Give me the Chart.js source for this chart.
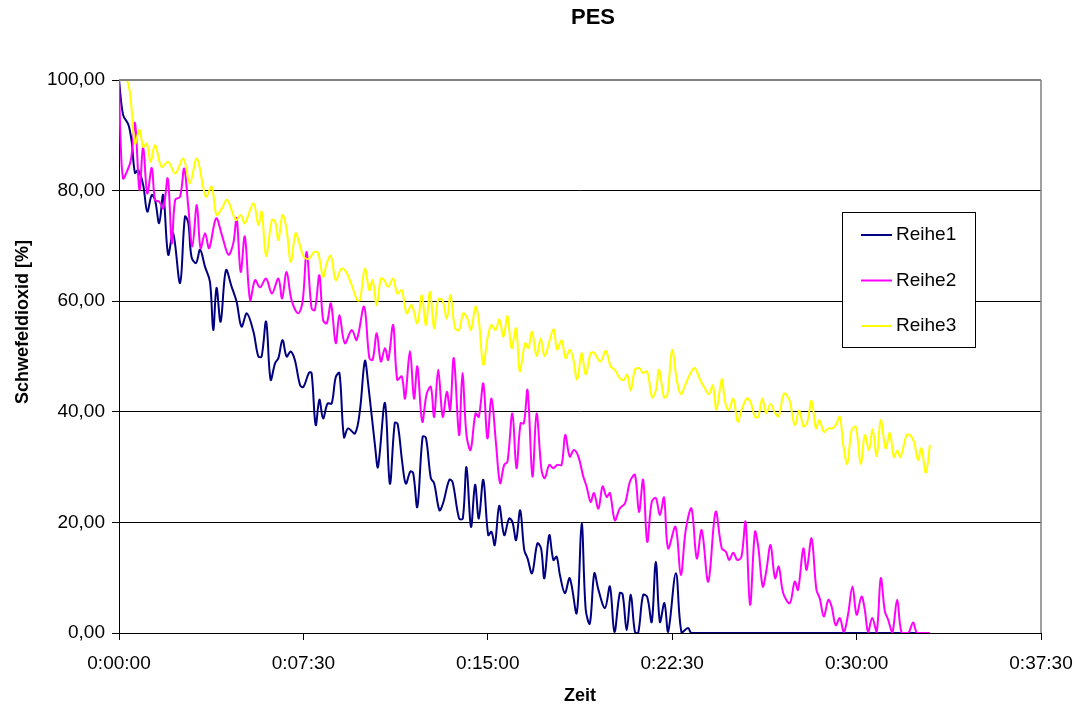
<!DOCTYPE html>
<html>
<head>
<meta charset="utf-8">
<script src="https://cdn.jsdelivr.net/npm/chart.js@4.4.1/dist/chart.umd.min.js"></script>
<style>
  html, body { margin: 0; padding: 0; background: #fff; }
</style>
</head>
<body>
<canvas id="chart" width="1079" height="710"></canvas>
<script>
// time in seconds, values in %
const seriesNames = ['Reihe1', 'Reihe2', 'Reihe3'];
const seriesColors = ['#000080', '#ff00ff', '#ffff00'];

const r1Time = [0,10,23,31,39,47,59,69,80,88,98,108,120,132,149,161,169,177,188,198,
  210,222,230,238,248,261,275,287,299,312,328,340,348,359,370,381,389,399,409,419,
  429,442,450,464,470,480,489,498,509,519,529,538,549,559,576,588,600,608,625,632,
  649,661,673,680,691,700,711,718,728,741,749,761,769,782,791,806,814,830,839,848,
  859,869,878,889,901,909,917,928,940,952,960,969,979,989,997,1008,1021,1030,1038,1050,
  1060,1068,1076,1088,1100,1117,1129,1139,1149,1160,1170,1186,1198,1209,1222,1229,1239,1249,1259,1267,
  1279,1289,1300,1310,1320,1331,1340,1359,1373,1389,1397,1500,1979];
const r1Vals = [100,93.7,91.9,88.8,83.2,83.7,81,76.2,79.2,78.3,74.1,79.2,68.4,72.3,63.3,75.3,74.2,68,66.9,69.3,
  66.2,63.5,54.8,62.4,56.3,65.6,62.6,59.9,55.4,57.8,54.5,50,50,56.3,45.8,48.8,49.7,53,50,50.9,
  49.4,44.8,44.5,47.1,47,37.6,42.2,38.8,41.5,41.5,46.3,47,35.4,37,36.1,40.3,49.2,45.1,33.7,30,
  41.6,27,38,37.8,31,27,29.2,28.9,22.8,35.5,35.3,28,27.1,22.2,23.5,27.7,27.3,20.7,20.7,30,
  19.2,26.8,20.7,27.7,17.7,18.3,15.9,23,17.7,20.7,20.1,16.8,22.2,15,13.5,10.8,16.2,15.3,9.9,17.7,
  13.2,13.8,10.5,7.2,9.9,3.6,19.8,4.2,1.7,10.8,7.8,4.5,8.4,0.2,7.2,7,0.5,6.9,0.2,0,
  6.9,6.5,2,12.9,2,5.4,0.2,10.8,0,0.9,0,0,0];

const r2Time = [0,4,10,19,29,39,50,59,69,80,88,98,108,119,129,137,149,159,169,179,
  190,199,210,220,237,251,267,279,287,297,307,320,332,344,359,373,389,398,409,421,
  437,448,458,470,478,489,498,507,517,529,538,551,568,580,598,611,619,629,639,649,
  657,669,679,690,698,710,720,728,740,751,761,769,779,790,800,808,817,830,838,848,
  858,870,878,889,899,909,920,930,940,948,960,970,980,988,997,1009,1019,1031,1039,1050,
  1060,1069,1080,1089,1100,1110,1121,1133,1141,1151,1159,1170,1180,1190,1198,1210,1222,1235,1247,1259,
  1269,1279,1289,1300,1310,1320,1330,1340,1358,1371,1383,1397,1410,1422,1438,1456,1471,1481,1489,
  1499,1509,1519,1529,1540,1552,1560,1571,1580,1590,1601,1610,1621,1637,1649,1657,1670,1678,1690,1702,
  1710,1720,1731,1739,1749,1759,1769,1779,1790,1800,1812,1820,1828,1838,1849,1859,1869,1877,1887,1899,
  1910,1926,1938,1948,1979];
const r2Vals = [100,88.8,82.2,83.4,85.5,92.2,80.1,87.9,79.5,84.1,78.3,78,76.8,82.2,70.5,78.3,78.9,84,77.1,69.9,
  77.4,69.6,72.3,69.6,75,72,68.4,70.5,75,65.3,71.7,60.2,63.8,62.5,64.1,61.4,64.1,60.5,65.3,60.2,
  57.8,59.9,68.9,58.7,58.4,64.7,56.6,56,59.6,52.4,57.5,52.4,54.8,53,59,49.7,49.4,54.2,49.1,51.5,
  49.4,55.7,45.8,46.4,42.4,51,42.4,48.2,38.2,43.3,44.5,39.1,47.6,39.1,43.6,40.3,49.7,35.8,47,35.8,
  33.1,39.7,39.1,45.1,35.2,42.4,34.3,27.1,30.4,31,39.7,29.8,37.9,37.9,43.9,28.3,39.7,29.5,28,30.4,
  29.8,30.4,30.4,35.8,31.9,33.1,31.9,28.3,26.5,23.7,25.3,22.5,26.5,24.6,25.3,20.4,22.5,23.5,27.4,28.6,
  21.9,27.7,16.5,23.7,24.4,21.3,24.5,15.3,19.2,10.5,18.6,22.5,13.5,18.6,9.3,21.9,15.3,14.7,13.2,
  14.5,13.2,13.8,20.1,5.1,18.3,15.6,8.4,11.4,15.9,9.9,12,7.2,5.4,9.3,7.8,15.3,11.4,17.1,7.8,
  6.3,3,6,4.8,1.4,2.7,0.2,3.3,8.4,3.3,6.6,4.2,0.2,2.7,0.2,9.9,3.9,2.4,0,6,
  0,0,1.9,0,0];

const r3Time = [0,19,29,39,50,59,68,77,88,104,120,137,157,173,190,212,226,238,251,264,
  285,297,307,328,340,348,359,373,381,389,399,409,419,431,440,451,464,476,486,498,
  507,517,529,543,554,568,581,588,600,611,619,629,639,647,657,669,679,690,702,714,
  728,739,749,759,769,779,789,800,809,820,830,840,850,859,870,878,889,900,909,919,
  928,938,948,958,969,978,991,999,1008,1019,1029,1039,1060,1069,1080,1090,1100,1108,1118,1129,
  1139,1151,1159,1175,1188,1200,1210,1222,1232,1240,1249,1259,1270,1279,1289,1301,1310,1318,1330,1338,
  1350,1361,1371,1383,1395,1405,1418,1430,1440,1449,1458,1471,1479,1488,1499,1510,1519,1532,1541,1552,
  1560,1570,1579,1590,1601,1610,1623,1636,1649,1660,1670,1679,1690,1701,1709,1720,1731,1741,1749,1759,
  1767,1777,1788,1798,1810,1820,1830,1839,1849,1859,1871,1881,1891,1899,1907,1922,1930,1940,1950,1958,
  1969,1979];
const r3Vals = [100,100,96.1,88.5,91,87.9,88.5,85.2,88.2,84.3,85.2,83.1,85.8,81.3,85.8,78.9,80.7,75.6,76.8,78.3,
  74.7,75.6,74.1,77.7,73.8,76.2,68.2,74.7,74.4,71.1,75.6,72.9,67.1,72.3,70.5,68,67.7,68.9,68.7,64.4,
  66.9,68.2,63.8,65.9,65.3,62.9,60.2,60.2,65.9,62,63.8,59.3,64.1,63.8,62.6,64.1,61.4,62,57.8,59.3,
  56,61.1,55.7,61.7,55.1,60.3,60.2,56.9,61.1,55.1,54.8,57.8,56.9,54.8,59,56.6,48.5,53.6,55.7,54.8,
  56.7,53.6,57.3,51.5,55.1,47.3,52.4,51.5,54.5,50.1,53.3,50.1,54.9,51.3,52.9,49.7,51.2,49.7,45.8,50.6,
  46.7,50.6,50.7,49.1,51,48.2,47.6,46.1,45.8,46.7,43.9,47.6,47.9,47,47.3,42.6,43.9,47.6,42.6,43,
  51.2,45.8,43.2,45.1,47,47.9,45.8,44.2,43.2,44.8,40.4,45.9,41.8,40.3,42.4,38.2,40.3,42.4,41.8,39.1,
  39.1,42.4,39.8,41.4,39.8,39.2,43.3,42.1,37.6,40.3,37.4,38,42,37,38.5,36.4,37,37,37.6,39.1,
  34.3,30.6,36.7,37.3,30.6,35.8,33.1,36.8,32,38.5,33.4,36.2,31.8,33,31.8,35.8,35.8,34.6,31.3,33.4,
  29,34];

const xTicks = [0, 450, 900, 1350, 1800, 2250];
const yTicks = [0, 20, 40, 60, 80, 100];

const fontFamily = '"Liberation Sans", Arial, sans-serif';

function toPoints(times, vals) {
    return times.map((t, i) => ({ x: t, y: vals[i] }));
}

function fmtTime(s) {
    const h = Math.floor(s / 3600);
    const m = Math.floor((s % 3600) / 60);
    const sec = Math.round(s % 60);
    return h + ':' + String(m).padStart(2, '0') + ':' + String(sec).padStart(2, '0');
}

// titles + boxed legend drawn over the plot, like the original
const decor = {
    id: 'decor',
    afterDraw(chart) {
        const c = chart.ctx;
        const a = chart.chartArea;
        c.save();
        // plot border (top / right) in grey
        c.strokeStyle = '#808080';
        c.lineWidth = 2;
        c.beginPath();
        c.moveTo(a.left, a.top);
        c.lineTo(a.right, a.top);
        c.stroke();
        c.lineWidth = 1.5;
        c.beginPath();
        c.moveTo(a.right, a.top);
        c.lineTo(a.right, a.bottom);
        c.stroke();

        c.fillStyle = '#000';
        c.textAlign = 'center';
        c.textBaseline = 'middle';
        c.font = 'bold 22px ' + fontFamily;
        c.fillText('PES', 593, 18);
        c.font = 'bold 18px ' + fontFamily;
        c.fillText('Zeit', (a.left + a.right) / 2, 696);
        c.translate(23, 322);
        c.rotate(-Math.PI / 2);
        c.fillText('Schwefeldioxid [%]', 0, 0);
        c.restore();

        // legend
        c.save();
        const bx = 842, by = 212, bw = 133, bh = 135;
        c.fillStyle = '#fff';
        c.fillRect(bx, by, bw, bh);
        c.strokeStyle = '#000';
        c.lineWidth = 1;
        c.strokeRect(bx + 0.5, by + 0.5, bw, bh);
        c.font = '19px ' + fontFamily;
        c.textAlign = 'left';
        c.textBaseline = 'middle';
        chart.data.datasets.forEach((ds, i) => {
            const y = by + 23 + i * 45.5;
            c.strokeStyle = ds.borderColor;
            c.lineWidth = 2;
            c.beginPath();
            c.moveTo(bx + 19, y);
            c.lineTo(bx + 50, y);
            c.stroke();
            c.fillStyle = '#000';
            c.fillText(ds.label, bx + 54, y);
        });
        c.restore();
    }
};

const ctx = document.querySelector('#chart').getContext('2d');

new Chart(ctx, {
    type: 'line',
    data: {
        datasets: [
            { label: seriesNames[0], data: toPoints(r1Time, r1Vals), borderColor: seriesColors[0], order: 2 },
            { label: seriesNames[1], data: toPoints(r2Time, r2Vals), borderColor: seriesColors[1], order: 1 },
            { label: seriesNames[2], data: toPoints(r3Time, r3Vals), borderColor: seriesColors[2], order: 0 }
        ]
    },
    options: {
        responsive: false,
        animation: false,
        devicePixelRatio: 1,
        layout: { padding: { top: 80, right: 38, bottom: 0, left: 0 } },
        elements: {
            line: { borderWidth: 2, tension: 0.35, fill: false },
            point: { radius: 0, hoverRadius: 0 }
        },
        plugins: {
            legend: { display: false },
            title: { display: false },
            tooltip: { enabled: false }
        },
        scales: {
            x: {
                type: 'linear',
                min: 0,
                max: 2250,
                afterFit: s => { s.height = 77; s.paddingLeft = 0; s.paddingRight = 0; },
                afterBuildTicks: s => { s.ticks = xTicks.map(v => ({ value: v })); },
                ticks: {
                    callback: v => fmtTime(v),
                    color: '#000',
                    font: { family: fontFamily, size: 19 },
                    padding: 12,
                    maxRotation: 0
                },
                grid: { drawOnChartArea: false, drawTicks: true, tickLength: 7, color: '#000' },
                border: { color: '#000', width: 1 }
            },
            y: {
                min: 0,
                max: 100,
                afterFit: s => { s.width = 119; s.paddingTop = 0; s.paddingBottom = 0; },
                afterBuildTicks: s => { s.ticks = yTicks.map(v => ({ value: v })); },
                ticks: {
                    callback: v => v.toFixed(2).replace('.', ','),
                    color: '#000',
                    font: { family: fontFamily, size: 19 },
                    padding: 7
                },
                grid: { color: '#000', lineWidth: 1, tickLength: 7 },
                border: { color: '#000', width: 1 }
            }
        }
    },
    plugins: [decor]
});
</script>
</body>
</html>
